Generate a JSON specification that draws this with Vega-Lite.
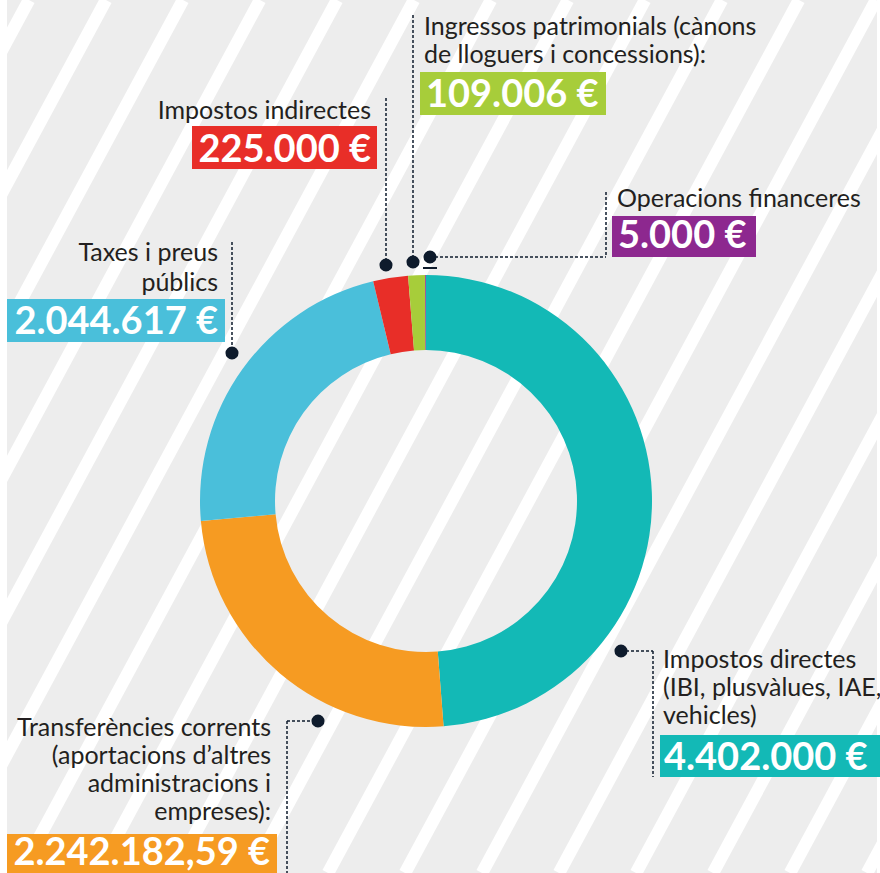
{
  "$schema": "https://vega.github.io/schema/vega-lite/v6.json",
  "width": 852,
  "height": 744,
  "autosize": "none",
  "padding": {"left": 0, "top": 129, "right": 28, "bottom": 0},
  "background": "#ffffff",
  "config": {
    "view": {"stroke": null},
    "axis": {"disable": true},
    "legend": {"disable": true},
    "locale": {"number": {"decimal": ",", "thousands": ".", "grouping": [3], "currency": ["", " €"]}}
  },
  "datasets": {
    "income": [
      {"category": "Impostos directes", "label": ["Impostos directes", "(IBI, plusvàlues, IAE,", "vehicles)"], "value": 4402000, "order": 1},
      {"category": "Transferències corrents", "label": ["Transferències corrents", "(aportacions d’altres", "administracions i", "empreses):"], "value": 2242182.59, "order": 2},
      {"category": "Taxes i preus públics", "label": ["Taxes i preus", "públics"], "value": 2044617, "order": 3},
      {"category": "Impostos indirectes", "label": ["Impostos indirectes"], "value": 225000, "order": 4},
      {"category": "Ingressos patrimonials", "label": ["Ingressos patrimonials (cànons", "de lloguers i concessions):"], "value": 109006, "order": 5},
      {"category": "Operacions financeres", "label": ["Operacions financeres"], "value": 5000, "order": 6}
    ],
    "stripes": [
      {"top": 29, "bottom": -442}, {"top": 106, "bottom": -365}, {"top": 183, "bottom": -288},
      {"top": 260, "bottom": -211}, {"top": 337, "bottom": -134}, {"top": 414, "bottom": -57},
      {"top": 491, "bottom": 20}, {"top": 568, "bottom": 97}, {"top": 645, "bottom": 174},
      {"top": 722, "bottom": 251}, {"top": 799, "bottom": 328}, {"top": 876, "bottom": 405},
      {"top": 953, "bottom": 482}, {"top": 1030, "bottom": 559}, {"top": 1107, "bottom": 636},
      {"top": 1184, "bottom": 713}, {"top": 1261, "bottom": 790}, {"top": 1338, "bottom": 867}
    ]
  },
  "data": {"name": "income"},
  "layer": [
    {
      "data": {"values": [{"bg": 1}]},
      "mark": {"type": "rect", "color": "#EDEDED"},
      "encoding": {
        "x": {"datum": 7, "type": "quantitative", "scale": {"domain": [0, 852], "nice": false, "zero": false}, "axis": null},
        "x2": {"datum": 877},
        "y": {"datum": 0, "type": "quantitative", "scale": {"domain": [129, 873], "reverse": true, "nice": false, "zero": false}, "axis": null},
        "y2": {"datum": 873}
      }
    },
    {
      "data": {"name": "stripes"},
      "mark": {"type": "rule", "color": "#ffffff", "strokeWidth": 12.5},
      "encoding": {
        "x": {"field": "top", "type": "quantitative"},
        "x2": {"field": "bottom"},
        "y": {"datum": 0},
        "y2": {"datum": 873}
      }
    },
    {
      "mark": {"type": "arc", "outerRadius": 226, "innerRadius": 151},
      "encoding": {
        "theta": {"field": "value", "type": "quantitative", "stack": true},
        "order": {"field": "order", "type": "quantitative"},
        "color": {
          "field": "category", "type": "nominal", "legend": null,
          "scale": {
            "domain": ["Impostos directes", "Transferències corrents", "Taxes i preus públics", "Impostos indirectes", "Ingressos patrimonials", "Operacions financeres"],
            "range": ["#13B9B6", "#F69B22", "#4ABFDA", "#E82E28", "#A7CD3A", "#8D288F"]
          }
        }
      }
    },
    {
      "transform": [{"filter": "datum.order === 1"}],
      "layer": [
        {"mark": {"type": "rule", "color": "#0E1B2C", "strokeWidth": 1.5, "strokeDash": [3, 2]}, "encoding": {"x": {"datum": 621}, "x2": {"datum": 653}, "y": {"datum": 651}, "y2": {"datum": 651}}},
        {"mark": {"type": "rule", "color": "#0E1B2C", "strokeWidth": 1.5, "strokeDash": [3, 2]}, "encoding": {"x": {"datum": 653}, "y": {"datum": 651}, "y2": {"datum": 777}}},
        {"mark": {"type": "point", "filled": true, "size": 170, "color": "#0E1B2C", "opacity": 1}, "encoding": {"x": {"datum": 621}, "y": {"datum": 651}}},
        {"mark": {"type": "rect"}, "encoding": {"x": {"datum": 660}, "x2": {"datum": 880}, "y": {"datum": 735}, "y2": {"datum": 777}, "color": {"field": "category", "type": "nominal"}}},
        {"mark": {"type": "text", "align": "left", "baseline": "alphabetic", "font": "Lato", "fontSize": 25, "lineHeight": 28, "color": "#231F20"}, "encoding": {"x": {"datum": 663}, "y": {"datum": 668}, "text": {"field": "label", "type": "nominal"}}},
        {"mark": {"type": "text", "align": "left", "baseline": "alphabetic", "font": "Lato", "fontSize": 38, "fontWeight": "bold", "color": "#ffffff"}, "encoding": {"x": {"datum": 664}, "y": {"datum": 770}, "text": {"field": "value", "type": "quantitative", "format": "$,.0f"}}}
      ]
    },
    {
      "transform": [{"filter": "datum.order === 2"}],
      "layer": [
        {"mark": {"type": "rule", "color": "#0E1B2C", "strokeWidth": 1.5, "strokeDash": [3, 2]}, "encoding": {"x": {"datum": 287}, "x2": {"datum": 318}, "y": {"datum": 721}, "y2": {"datum": 721}}},
        {"mark": {"type": "rule", "color": "#0E1B2C", "strokeWidth": 1.5, "strokeDash": [3, 2]}, "encoding": {"x": {"datum": 287}, "y": {"datum": 721}, "y2": {"datum": 873}}},
        {"mark": {"type": "point", "filled": true, "size": 170, "color": "#0E1B2C", "opacity": 1}, "encoding": {"x": {"datum": 318}, "y": {"datum": 721}}},
        {"mark": {"type": "rect"}, "encoding": {"x": {"datum": 7}, "x2": {"datum": 277}, "y": {"datum": 834}, "y2": {"datum": 873}, "color": {"field": "category", "type": "nominal"}}},
        {"mark": {"type": "text", "align": "right", "baseline": "alphabetic", "font": "Lato", "fontSize": 25, "lineHeight": 28, "color": "#231F20"}, "encoding": {"x": {"datum": 271}, "y": {"datum": 736}, "text": {"field": "label", "type": "nominal"}}},
        {"mark": {"type": "text", "align": "right", "baseline": "alphabetic", "font": "Lato", "fontSize": 38, "fontWeight": "bold", "color": "#ffffff"}, "encoding": {"x": {"datum": 270}, "y": {"datum": 865}, "text": {"field": "value", "type": "quantitative", "format": "$,.2f"}}}
      ]
    },
    {
      "transform": [{"filter": "datum.order === 3"}],
      "layer": [
        {"mark": {"type": "rule", "color": "#0E1B2C", "strokeWidth": 1.5, "strokeDash": [3, 2]}, "encoding": {"x": {"datum": 232}, "y": {"datum": 242}, "y2": {"datum": 353}}},
        {"mark": {"type": "point", "filled": true, "size": 170, "color": "#0E1B2C", "opacity": 1}, "encoding": {"x": {"datum": 232}, "y": {"datum": 353}}},
        {"mark": {"type": "rect"}, "encoding": {"x": {"datum": 7}, "x2": {"datum": 225}, "y": {"datum": 299}, "y2": {"datum": 342}, "color": {"field": "category", "type": "nominal"}}},
        {"mark": {"type": "text", "align": "right", "baseline": "alphabetic", "font": "Lato", "fontSize": 25, "lineHeight": 30, "color": "#231F20"}, "encoding": {"x": {"datum": 218}, "y": {"datum": 261}, "text": {"field": "label", "type": "nominal"}}},
        {"mark": {"type": "text", "align": "right", "baseline": "alphabetic", "font": "Lato", "fontSize": 38, "fontWeight": "bold", "color": "#ffffff"}, "encoding": {"x": {"datum": 218}, "y": {"datum": 334}, "text": {"field": "value", "type": "quantitative", "format": "$,.0f"}}}
      ]
    },
    {
      "transform": [{"filter": "datum.order === 4"}],
      "layer": [
        {"mark": {"type": "rule", "color": "#0E1B2C", "strokeWidth": 1.5, "strokeDash": [3, 2]}, "encoding": {"x": {"datum": 386}, "y": {"datum": 98}, "y2": {"datum": 265}}},
        {"mark": {"type": "point", "filled": true, "size": 170, "color": "#0E1B2C", "opacity": 1}, "encoding": {"x": {"datum": 386}, "y": {"datum": 265}}},
        {"mark": {"type": "rect"}, "encoding": {"x": {"datum": 192}, "x2": {"datum": 377}, "y": {"datum": 126}, "y2": {"datum": 169}, "color": {"field": "category", "type": "nominal"}}},
        {"mark": {"type": "text", "align": "right", "baseline": "alphabetic", "font": "Lato", "fontSize": 25, "lineHeight": 28, "color": "#231F20"}, "encoding": {"x": {"datum": 371}, "y": {"datum": 119}, "text": {"field": "label", "type": "nominal"}}},
        {"mark": {"type": "text", "align": "right", "baseline": "alphabetic", "font": "Lato", "fontSize": 38, "fontWeight": "bold", "color": "#ffffff"}, "encoding": {"x": {"datum": 371}, "y": {"datum": 162}, "text": {"field": "value", "type": "quantitative", "format": "$,.0f"}}}
      ]
    },
    {
      "transform": [{"filter": "datum.order === 5"}],
      "layer": [
        {"mark": {"type": "rule", "color": "#0E1B2C", "strokeWidth": 1.5, "strokeDash": [3, 2]}, "encoding": {"x": {"datum": 413}, "y": {"datum": 15}, "y2": {"datum": 262}}},
        {"mark": {"type": "point", "filled": true, "size": 170, "color": "#0E1B2C", "opacity": 1}, "encoding": {"x": {"datum": 413}, "y": {"datum": 262}}},
        {"mark": {"type": "rect"}, "encoding": {"x": {"datum": 420}, "x2": {"datum": 606}, "y": {"datum": 72}, "y2": {"datum": 115}, "color": {"field": "category", "type": "nominal"}}},
        {"mark": {"type": "text", "align": "left", "baseline": "alphabetic", "font": "Lato", "fontSize": 25, "lineHeight": 28, "color": "#231F20"}, "encoding": {"x": {"datum": 424}, "y": {"datum": 35}, "text": {"field": "label", "type": "nominal"}}},
        {"mark": {"type": "text", "align": "left", "baseline": "alphabetic", "font": "Lato", "fontSize": 38, "fontWeight": "bold", "color": "#ffffff"}, "encoding": {"x": {"datum": 426}, "y": {"datum": 107}, "text": {"field": "value", "type": "quantitative", "format": "$,.0f"}}}
      ]
    },
    {
      "transform": [{"filter": "datum.order === 6"}],
      "layer": [
        {"mark": {"type": "rule", "color": "#0E1B2C", "strokeWidth": 1.5, "strokeDash": [3, 2]}, "encoding": {"x": {"datum": 430}, "x2": {"datum": 606}, "y": {"datum": 257}, "y2": {"datum": 257}}},
        {"mark": {"type": "rule", "color": "#0E1B2C", "strokeWidth": 1.5, "strokeDash": [3, 2]}, "encoding": {"x": {"datum": 606}, "y": {"datum": 192}, "y2": {"datum": 257}}},
        {"mark": {"type": "rule", "color": "#0E1B2C", "strokeWidth": 2}, "encoding": {"x": {"datum": 423}, "x2": {"datum": 437}, "y": {"datum": 268}, "y2": {"datum": 268}}},
        {"mark": {"type": "point", "filled": true, "size": 170, "color": "#0E1B2C", "opacity": 1}, "encoding": {"x": {"datum": 430}, "y": {"datum": 257}}},
        {"mark": {"type": "rect"}, "encoding": {"x": {"datum": 612}, "x2": {"datum": 756}, "y": {"datum": 216}, "y2": {"datum": 257}, "color": {"field": "category", "type": "nominal"}}},
        {"mark": {"type": "text", "align": "left", "baseline": "alphabetic", "font": "Lato", "fontSize": 25, "lineHeight": 28, "color": "#231F20"}, "encoding": {"x": {"datum": 617}, "y": {"datum": 207}, "text": {"field": "label", "type": "nominal"}}},
        {"mark": {"type": "text", "align": "left", "baseline": "alphabetic", "font": "Lato", "fontSize": 38, "fontWeight": "bold", "color": "#ffffff"}, "encoding": {"x": {"datum": 618}, "y": {"datum": 248}, "text": {"field": "value", "type": "quantitative", "format": "$,.0f"}}}
      ]
    }
  ]
}
